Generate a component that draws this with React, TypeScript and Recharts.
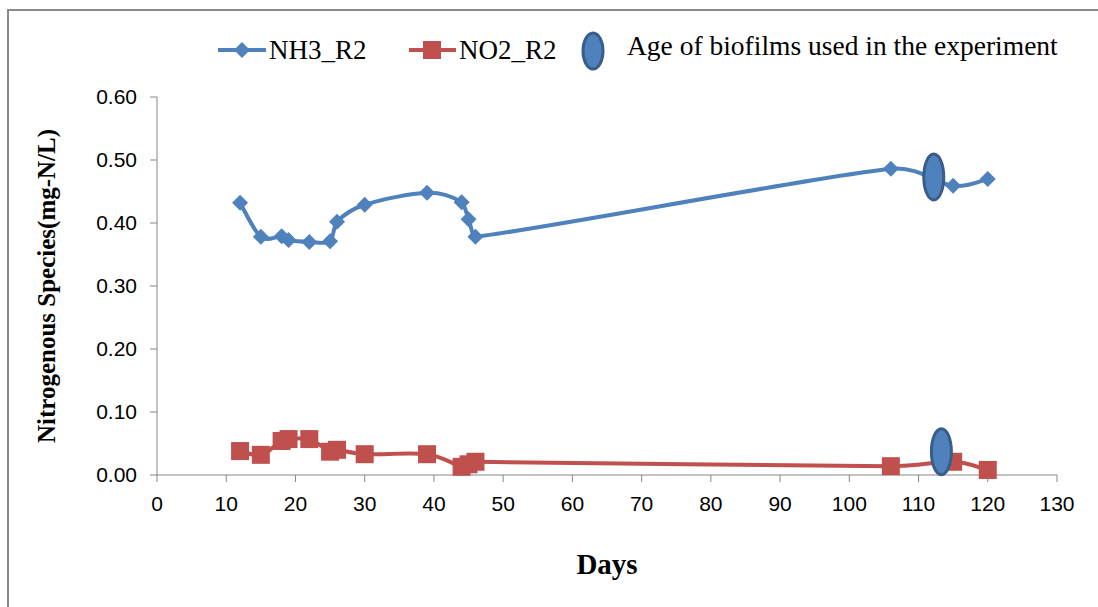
import React from 'react';
import {
    ComposedChart, Line, Scatter, XAxis, YAxis, Label,
} from 'recharts';

const days = [12, 15, 18, 19, 22, 25, 26, 30, 39, 44, 45, 46, 106, 115, 120];
const nh3 = [0.432, 0.378, 0.379, 0.373, 0.370, 0.371, 0.402, 0.429, 0.448, 0.433, 0.406, 0.378, 0.486, 0.459, 0.470];
const no2 = [0.038, 0.032, 0.054, 0.057, 0.057, 0.037, 0.040, 0.033, 0.033, 0.013, 0.017, 0.021, 0.014, 0.021, 0.008];

// biofilm age markers (ellipses)
const ageDays = [112.2, 113.3];
const ageValues = [0.473, 0.037];

const xTicks = [0, 10, 20, 30, 40, 50, 60, 70, 80, 90, 100, 110, 120, 130];
const yTicks = [0, 0.1, 0.2, 0.3, 0.4, 0.5, 0.6];

const BLUE = '#4F81BD';
const RED = '#C0504D';
const ELLIPSE_STROKE = '#385D8A';
const SERIF = '"Liberation Serif", "Times New Roman", serif';

const tableData = days.map((d, i) => ({ day: d, nh3: nh3[i], no2: no2[i] }));
const ageData = ageDays.map((d, i) => ({ day: d, age: ageValues[i] }));

// excel-like smoothed line: catmull-rom, handles clamped so it never loops back
const clampHandle = (tx: number, ty: number, seg: number) => {
    const lim = Math.abs(seg) * 0.45;
    if (Math.abs(tx) > lim && tx !== 0) {
        const k = lim / Math.abs(tx);
        return [tx * k, ty * k];
    }
    return [tx, ty];
};

const smoothCurve = (ctx: any) => {
    let pts: [number, number][] = [];
    return {
        areaStart() {},
        areaEnd() {},
        lineStart() { pts = []; },
        point(x: number, y: number) { pts.push([+x, +y]); },
        lineEnd() {
            if (!pts.length) return;
            ctx.moveTo(pts[0][0], pts[0][1]);
            for (let i = 0; i < pts.length - 1; i++) {
                const p0 = pts[Math.max(i - 1, 0)];
                const p1 = pts[i];
                const p2 = pts[i + 1];
                const p3 = pts[Math.min(i + 2, pts.length - 1)];
                const seg = p2[0] - p1[0];
                const [ax, ay] = clampHandle((p2[0] - p0[0]) / 6, (p2[1] - p0[1]) / 6, seg);
                const [bx, by] = clampHandle((p3[0] - p1[0]) / 6, (p3[1] - p1[1]) / 6, seg);
                ctx.bezierCurveTo(p1[0] + ax, p1[1] + ay, p2[0] - bx, p2[1] - by, p2[0], p2[1]);
            }
        },
    };
};

const Diamond = (props: any) => {
    const { cx, cy } = props;
    if (cx == null || cy == null) return null;
    const r = 8;
    return <path d={`M${cx},${cy - r}L${cx + r},${cy}L${cx},${cy + r}L${cx - r},${cy}Z`} fill={BLUE} />;
};

const Square = (props: any) => {
    const { cx, cy } = props;
    if (cx == null || cy == null) return null;
    const s = 9;
    return <rect x={cx - s} y={cy - s} width={s * 2} height={s * 2} fill={RED} />;
};

const Ellipse = (props: any) => {
    const { cx, cy } = props;
    if (cx == null || cy == null) return null;
    return <ellipse cx={cx} cy={cy} rx={10} ry={23} fill={BLUE} stroke={ELLIPSE_STROKE} strokeWidth={3} />;
};

const legendText: React.CSSProperties = { position: 'absolute', fontFamily: SERIF, fontSize: 27, color: '#000', lineHeight: '30px', whiteSpace: 'nowrap' };

const LegendBox = () => (
    <div style={{ position: 'absolute', left: 0, top: 0, width: 1098, height: 90, pointerEvents: 'none' }}>
        <svg width={1098} height={90} style={{ position: 'absolute', left: 0, top: 0 }}>
            <line x1={218} y1={50} x2={266} y2={50} stroke={BLUE} strokeWidth={4} />
            <path d="M242,42L250,50L242,58L234,50Z" fill={BLUE} />
            <line x1={409} y1={50} x2={456} y2={50} stroke={RED} strokeWidth={4} />
            <rect x={423} y={41} width={18} height={18} fill={RED} />
            <ellipse cx={593} cy={51} rx={10} ry={18} fill={BLUE} stroke={ELLIPSE_STROKE} strokeWidth={3} />
        </svg>
        <span style={{ ...legendText, left: 269, top: 35 }}>NH3_R2</span>
        <span style={{ ...legendText, left: 459, top: 35 }}>NO2_R2</span>
        <span style={{ ...legendText, left: 627, top: 31, fontSize: 27.5 }}>Age of biofilms used in the experiment</span>
    </div>
);

const tickStyle = { fontFamily: '"Liberation Sans", Arial, sans-serif', fontSize: 21, fill: '#000' };

export default function App() {
    return (
        <div style={{ position: 'fixed', left: 0, top: 0, width: 1098, height: 607, background: '#fff' }}>
            <div style={{ position: 'absolute', left: 7, top: 9, width: 1091, height: 598, borderTop: '2px solid #8a8a8a', borderLeft: '2px solid #8a8a8a', boxSizing: 'border-box' }} />
            <ComposedChart
                width={1098}
                height={607}
                data={tableData}
                margin={{ top: 97, right: 41, bottom: 0, left: 0 }}
                style={{ position: 'absolute', left: 0, top: 0 }}
            >
                <XAxis
                    dataKey="day"
                    type="number"
                    domain={[0, 130]}
                    ticks={xTicks}
                    interval={0}
                    stroke="#868686"
                    tickSize={7}
                    tickMargin={14}
                    tick={tickStyle}
                    height={132}
                >
                    <Label value="Days" position="insideTop" offset={78} style={{ fontFamily: SERIF, fontSize: 29, fontWeight: 'bold', fill: '#000' }} />
                </XAxis>
                <YAxis
                    type="number"
                    domain={[0, 0.6]}
                    ticks={yTicks}
                    interval={0}
                    stroke="#868686"
                    tickSize={7}
                    tickMargin={13}
                    tick={tickStyle}
                    tickFormatter={(v: number) => v.toFixed(2)}
                    width={157}
                >
                    <Label
                        value="Nitrogenous Species(mg-N/L)"
                        angle={-90}
                        position="insideLeft"
                        offset={46}
                        style={{ textAnchor: 'middle', fontFamily: SERIF, fontSize: 25, fontWeight: 'bold', fill: '#000' }}
                    />
                </YAxis>
                <Line
                    type={smoothCurve as any}
                    dataKey="nh3"
                    stroke={BLUE}
                    strokeWidth={4}
                    dot={<Diamond />}
                    activeDot={false}
                    isAnimationActive={false}
                />
                <Line
                    type={smoothCurve as any}
                    dataKey="no2"
                    stroke={RED}
                    strokeWidth={4}
                    dot={<Square />}
                    activeDot={false}
                    isAnimationActive={false}
                />
                <Scatter
                    data={ageData}
                    dataKey="age"
                    shape={<Ellipse />}
                    isAnimationActive={false}
                />
            </ComposedChart>
            <LegendBox />
        </div>
    );
}
